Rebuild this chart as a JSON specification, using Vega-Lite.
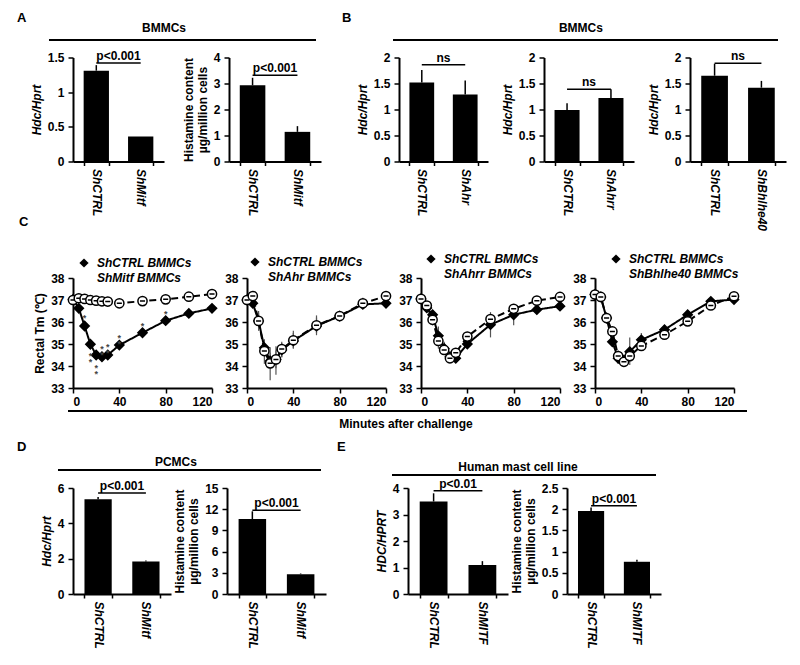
{
"$schema": "https://vega.github.io/schema/vega-lite/v6.json",
"background": "white",
"padding": {"left": 16, "top": 8, "right": 5, "bottom": 5},
"config": {
  "view": {"stroke": null},
  "font": "Liberation Sans",
  "axis": {"domainColor": "black", "domainWidth": 2, "tickColor": "black", "tickWidth": 1.5, "tickSize": 5, "labelFont": "Liberation Sans", "labelFontSize": 12, "labelFontWeight": "bold", "labelColor": "black", "labelPadding": 4, "labelOverlap": false, "titleFont": "Liberation Sans", "titleFontSize": 12, "titleFontWeight": "bold", "titleColor": "black", "titlePadding": 4, "grid": false},
  "axisX": {"labelPadding": 3},
  "legend": {"labelFont": "Liberation Sans", "labelFontSize": 12, "labelFontWeight": "bold", "labelFontStyle": "italic", "labelColor": "black", "symbolSize": 85, "symbolStrokeColor": "black", "symbolStrokeWidth": 1.5, "labelOffset": 7, "padding": 0},
  "text": {"font": "Liberation Sans", "fontSize": 12, "fontWeight": "bold", "color": "black"}
},
"datasets": {
  "A1": [{"g": "ShCTRL", "v": 1.31, "hi": 1.39, "br": 1.42, "p": "p<0.001"}, {"g": "ShMitf", "v": 0.36, "hi": 0.36, "br": 1.42, "p": "p<0.001"}],
  "A2": [{"g": "ShCTRL", "v": 2.93, "hi": 3.22, "br": 3.32, "p": "p<0.001"}, {"g": "ShMitf", "v": 1.14, "hi": 1.36, "br": 3.32, "p": "p<0.001"}],
  "B1": [{"g": "ShCTRL", "v": 1.52, "hi": 1.76, "br": 1.86, "p": "ns"}, {"g": "ShAhr", "v": 1.29, "hi": 1.56, "br": 1.86, "p": "ns"}],
  "B2": [{"g": "ShCTRL", "v": 0.99, "hi": 1.12, "br": 1.39, "p": "ns"}, {"g": "ShAhrr", "v": 1.22, "hi": 1.39, "br": 1.39, "p": "ns"}],
  "B3": [{"g": "ShCTRL", "v": 1.65, "hi": 1.88, "br": 1.89, "p": "ns"}, {"g": "ShBhlhe40", "v": 1.42, "hi": 1.55, "br": 1.89, "p": "ns"}],
  "D1": [{"g": "ShCTRL", "v": 5.36, "hi": 5.49, "br": 5.72, "p": "p<0.001"}, {"g": "ShMitf", "v": 1.84, "hi": 1.9, "br": 5.72, "p": "p<0.001"}],
  "D2": [{"g": "ShCTRL", "v": 10.6, "hi": 11.7, "br": 11.84, "p": "p<0.001"}, {"g": "ShMitf", "v": 2.8, "hi": 2.9, "br": 11.84, "p": "p<0.001"}],
  "E1": [{"g": "ShCTRL", "v": 3.49, "hi": 3.8, "br": 3.9, "p": "p<0.01"}, {"g": "ShMITF", "v": 1.09, "hi": 1.24, "br": 3.9, "p": "p<0.01"}],
  "E2": [{"g": "ShCTRL", "v": 1.96, "hi": 2.04, "br": 2.08, "p": "p<0.001"}, {"g": "ShMITF", "v": 0.76, "hi": 0.81, "br": 2.08, "p": "p<0.001"}],
  "C1": [
    {"g": "ShCTRL BMMCs", "t": 0, "v": 37.03, "lo": 36.95, "hi": 37.1},
    {"g": "ShCTRL BMMCs", "t": 5, "v": 36.62, "lo": 36.52, "hi": 36.72},
    {"g": "ShCTRL BMMCs", "t": 10, "v": 35.82, "lo": 35.67, "hi": 35.97},
    {"g": "ShCTRL BMMCs", "t": 15, "v": 34.99, "lo": 34.84, "hi": 35.14},
    {"g": "ShCTRL BMMCs", "t": 20, "v": 34.5, "lo": 34.4, "hi": 34.6},
    {"g": "ShCTRL BMMCs", "t": 25, "v": 34.42, "lo": 34.32, "hi": 34.52},
    {"g": "ShCTRL BMMCs", "t": 30, "v": 34.5, "lo": 34.4, "hi": 34.6},
    {"g": "ShCTRL BMMCs", "t": 40, "v": 34.95, "lo": 34.8, "hi": 35.1},
    {"g": "ShCTRL BMMCs", "t": 60, "v": 35.51, "lo": 35.36, "hi": 35.66},
    {"g": "ShCTRL BMMCs", "t": 80, "v": 36.06, "lo": 35.9, "hi": 36.22},
    {"g": "ShCTRL BMMCs", "t": 100, "v": 36.39, "lo": 36.29, "hi": 36.49},
    {"g": "ShCTRL BMMCs", "t": 120, "v": 36.62, "lo": 36.42, "hi": 36.8},
    {"g": "ShMitf BMMCs", "t": 0, "v": 37.0, "lo": 36.95, "hi": 37.05},
    {"g": "ShMitf BMMCs", "t": 5, "v": 37.08, "lo": 37.0, "hi": 37.16},
    {"g": "ShMitf BMMCs", "t": 10, "v": 37.05, "lo": 37.0, "hi": 37.1},
    {"g": "ShMitf BMMCs", "t": 15, "v": 37.0, "lo": 36.95, "hi": 37.05},
    {"g": "ShMitf BMMCs", "t": 20, "v": 36.97, "lo": 36.9, "hi": 37.04},
    {"g": "ShMitf BMMCs", "t": 25, "v": 36.94, "lo": 36.85, "hi": 37.03},
    {"g": "ShMitf BMMCs", "t": 30, "v": 36.93, "lo": 36.8, "hi": 37.05},
    {"g": "ShMitf BMMCs", "t": 40, "v": 36.85, "lo": 36.75, "hi": 36.95},
    {"g": "ShMitf BMMCs", "t": 60, "v": 36.95, "lo": 36.88, "hi": 37.02},
    {"g": "ShMitf BMMCs", "t": 80, "v": 37.03, "lo": 36.96, "hi": 37.1},
    {"g": "ShMitf BMMCs", "t": 100, "v": 37.15, "lo": 37.08, "hi": 37.22},
    {"g": "ShMitf BMMCs", "t": 120, "v": 37.27, "lo": 37.2, "hi": 37.34}
  ],
  "C1s": [
    {"t": 10, "v": 36.18, "s": "*"},
    {"t": 15, "v": 34.45, "s": "*\n*"},
    {"t": 20, "v": 33.91, "s": "*\n*"},
    {"t": 25, "v": 34.77, "s": "*\n*"},
    {"t": 30, "v": 34.88, "s": "*\n*"},
    {"t": 40, "v": 35.29, "s": "*\n*"},
    {"t": 60, "v": 35.83, "s": "*"},
    {"t": 80, "v": 36.36, "s": "*"}
  ],
  "C2": [
    {"g": "ShCTRL BMMCs", "t": 0, "v": 37.0, "lo": 36.95, "hi": 37.05},
    {"g": "ShCTRL BMMCs", "t": 5, "v": 36.85, "lo": 36.75, "hi": 36.95},
    {"g": "ShCTRL BMMCs", "t": 10, "v": 36.05, "lo": 35.6, "hi": 36.5},
    {"g": "ShCTRL BMMCs", "t": 15, "v": 34.83, "lo": 34.5, "hi": 35.2},
    {"g": "ShCTRL BMMCs", "t": 20, "v": 34.23, "lo": 33.9, "hi": 34.6},
    {"g": "ShCTRL BMMCs", "t": 25, "v": 34.3, "lo": 33.9, "hi": 34.7},
    {"g": "ShCTRL BMMCs", "t": 30, "v": 34.73, "lo": 34.4, "hi": 35.05},
    {"g": "ShCTRL BMMCs", "t": 40, "v": 35.14, "lo": 34.8, "hi": 35.5},
    {"g": "ShCTRL BMMCs", "t": 60, "v": 35.82, "lo": 35.5, "hi": 36.2},
    {"g": "ShCTRL BMMCs", "t": 80, "v": 36.27, "lo": 36.15, "hi": 36.4},
    {"g": "ShCTRL BMMCs", "t": 100, "v": 36.8, "lo": 36.65, "hi": 36.95},
    {"g": "ShCTRL BMMCs", "t": 120, "v": 36.85, "lo": 36.75, "hi": 36.95},
    {"g": "ShAhr BMMCs", "t": 0, "v": 37.0, "lo": 36.95, "hi": 37.05},
    {"g": "ShAhr BMMCs", "t": 5, "v": 37.18, "lo": 37.1, "hi": 37.26},
    {"g": "ShAhr BMMCs", "t": 10, "v": 36.05, "lo": 35.7, "hi": 36.4},
    {"g": "ShAhr BMMCs", "t": 15, "v": 34.68, "lo": 34.1, "hi": 35.2},
    {"g": "ShAhr BMMCs", "t": 20, "v": 34.12, "lo": 33.35, "hi": 34.85},
    {"g": "ShAhr BMMCs", "t": 25, "v": 34.3, "lo": 33.6, "hi": 34.9},
    {"g": "ShAhr BMMCs", "t": 30, "v": 34.77, "lo": 34.4, "hi": 35.1},
    {"g": "ShAhr BMMCs", "t": 40, "v": 35.17, "lo": 34.8, "hi": 35.6},
    {"g": "ShAhr BMMCs", "t": 60, "v": 35.85, "lo": 35.4, "hi": 36.3},
    {"g": "ShAhr BMMCs", "t": 80, "v": 36.27, "lo": 36.15, "hi": 36.4},
    {"g": "ShAhr BMMCs", "t": 100, "v": 36.85, "lo": 36.6, "hi": 37.1},
    {"g": "ShAhr BMMCs", "t": 120, "v": 37.18, "lo": 37.1, "hi": 37.26}
  ],
  "C3": [
    {"g": "ShCTRL BMMCs", "t": 0, "v": 37.05, "lo": 37.0, "hi": 37.1},
    {"g": "ShCTRL BMMCs", "t": 5, "v": 36.64, "lo": 36.55, "hi": 36.73},
    {"g": "ShCTRL BMMCs", "t": 10, "v": 36.33, "lo": 36.1, "hi": 36.55},
    {"g": "ShCTRL BMMCs", "t": 15, "v": 35.37, "lo": 34.9, "hi": 35.8},
    {"g": "ShCTRL BMMCs", "t": 20, "v": 34.8, "lo": 34.55, "hi": 35.1},
    {"g": "ShCTRL BMMCs", "t": 25, "v": 34.42, "lo": 34.25, "hi": 34.6},
    {"g": "ShCTRL BMMCs", "t": 30, "v": 34.35, "lo": 34.15, "hi": 34.55},
    {"g": "ShCTRL BMMCs", "t": 40, "v": 35.0, "lo": 34.8, "hi": 35.2},
    {"g": "ShCTRL BMMCs", "t": 60, "v": 35.88, "lo": 35.3, "hi": 36.45},
    {"g": "ShCTRL BMMCs", "t": 80, "v": 36.33, "lo": 35.85, "hi": 36.8},
    {"g": "ShCTRL BMMCs", "t": 100, "v": 36.56, "lo": 36.35, "hi": 36.75},
    {"g": "ShCTRL BMMCs", "t": 120, "v": 36.72, "lo": 36.6, "hi": 36.85},
    {"g": "ShAhrr BMMCs", "t": 0, "v": 37.05, "lo": 37.0, "hi": 37.1},
    {"g": "ShAhrr BMMCs", "t": 5, "v": 36.75, "lo": 36.65, "hi": 36.85},
    {"g": "ShAhrr BMMCs", "t": 10, "v": 36.1, "lo": 35.85, "hi": 36.35},
    {"g": "ShAhrr BMMCs", "t": 15, "v": 35.14, "lo": 34.8, "hi": 35.5},
    {"g": "ShAhrr BMMCs", "t": 20, "v": 34.73, "lo": 34.5, "hi": 34.95},
    {"g": "ShAhrr BMMCs", "t": 25, "v": 34.35, "lo": 34.2, "hi": 34.5},
    {"g": "ShAhrr BMMCs", "t": 30, "v": 34.6, "lo": 34.4, "hi": 34.8},
    {"g": "ShAhrr BMMCs", "t": 40, "v": 35.34, "lo": 35.1, "hi": 35.55},
    {"g": "ShAhrr BMMCs", "t": 60, "v": 36.13, "lo": 35.9, "hi": 36.35},
    {"g": "ShAhrr BMMCs", "t": 80, "v": 36.6, "lo": 36.45, "hi": 36.75},
    {"g": "ShAhrr BMMCs", "t": 100, "v": 36.97, "lo": 36.85, "hi": 37.1},
    {"g": "ShAhrr BMMCs", "t": 120, "v": 37.14, "lo": 37.05, "hi": 37.23}
  ],
  "C4": [
    {"g": "ShCTRL BMMCs", "t": 0, "v": 37.25, "lo": 37.2, "hi": 37.3},
    {"g": "ShCTRL BMMCs", "t": 5, "v": 37.14, "lo": 37.05, "hi": 37.23},
    {"g": "ShCTRL BMMCs", "t": 10, "v": 36.18, "lo": 36.0, "hi": 36.35},
    {"g": "ShCTRL BMMCs", "t": 15, "v": 35.1, "lo": 34.95, "hi": 35.25},
    {"g": "ShCTRL BMMCs", "t": 20, "v": 34.35, "lo": 34.1, "hi": 34.6},
    {"g": "ShCTRL BMMCs", "t": 25, "v": 34.27, "lo": 34.05, "hi": 34.5},
    {"g": "ShCTRL BMMCs", "t": 30, "v": 34.65, "lo": 34.05, "hi": 35.3},
    {"g": "ShCTRL BMMCs", "t": 40, "v": 35.19, "lo": 34.95, "hi": 35.5},
    {"g": "ShCTRL BMMCs", "t": 60, "v": 35.65, "lo": 35.45, "hi": 35.85},
    {"g": "ShCTRL BMMCs", "t": 80, "v": 36.33, "lo": 36.15, "hi": 36.5},
    {"g": "ShCTRL BMMCs", "t": 100, "v": 36.94, "lo": 36.8, "hi": 37.05},
    {"g": "ShCTRL BMMCs", "t": 120, "v": 37.02, "lo": 36.95, "hi": 37.1},
    {"g": "ShBhlhe40 BMMCs", "t": 0, "v": 37.25, "lo": 37.2, "hi": 37.3},
    {"g": "ShBhlhe40 BMMCs", "t": 5, "v": 37.14, "lo": 37.05, "hi": 37.23},
    {"g": "ShBhlhe40 BMMCs", "t": 10, "v": 36.18, "lo": 35.95, "hi": 36.4},
    {"g": "ShBhlhe40 BMMCs", "t": 15, "v": 35.57, "lo": 35.35, "hi": 35.8},
    {"g": "ShBhlhe40 BMMCs", "t": 20, "v": 34.45, "lo": 34.25, "hi": 34.7},
    {"g": "ShBhlhe40 BMMCs", "t": 25, "v": 34.19, "lo": 34.05, "hi": 34.35},
    {"g": "ShBhlhe40 BMMCs", "t": 30, "v": 34.45, "lo": 34.2, "hi": 34.7},
    {"g": "ShBhlhe40 BMMCs", "t": 40, "v": 34.91, "lo": 34.75, "hi": 35.1},
    {"g": "ShBhlhe40 BMMCs", "t": 60, "v": 35.42, "lo": 35.2, "hi": 35.6},
    {"g": "ShBhlhe40 BMMCs", "t": 80, "v": 36.03, "lo": 35.85, "hi": 36.2},
    {"g": "ShBhlhe40 BMMCs", "t": 100, "v": 36.75, "lo": 36.6, "hi": 36.9},
    {"g": "ShBhlhe40 BMMCs", "t": 120, "v": 37.17, "lo": 37.1, "hi": 37.24}
  ],
  "hA": [{"label": "BMMCs", "letter": "A"}],
  "hB": [{"label": "BMMCs", "letter": "B"}],
  "hC": [{"letter": "C"}],
  "hD": [{"label": "PCMCs", "letter": "D"}],
  "hE": [{"label": "Human mast cell line", "letter": "E"}],
  "hMin": [{"label": "Minutes after challenge"}]
},
"resolve": {"scale": {"shape": "independent", "fill": "independent", "strokeDash": "independent"}, "legend": {"shape": "independent", "fill": "independent", "strokeDash": "independent"}},
"bounds": "flush",
"spacing": 432,
"vconcat": [
 {"bounds": "flush", "spacing": 207,
  "resolve": {"scale": {"shape": "independent", "fill": "independent", "strokeDash": "independent"}, "legend": {"shape": "independent", "fill": "independent", "strokeDash": "independent"}},
  "vconcat": [
  {"spacing": 20, "hconcat": [
   {"spacing": 8.5, "vconcat": [
     {"width": 243, "height": 32, "data": {"name": "hA"}, "layer": [
       {"mark": {"type": "rule", "color": "black", "strokeWidth": 2}, "encoding": {"x": {"datum": -0.0988, "type": "quantitative", "scale": {"domain": [0, 1], "nice": false, "zero": false}, "axis": null}, "x2": {"datum": 1}, "y": {"datum": 0, "type": "quantitative", "scale": {"domain": [0, 1], "nice": false}, "axis": null}}},
       {"mark": {"type": "text", "baseline": "middle", "align": "center"}, "encoding": {"x": {"datum": 0.3745, "type": "quantitative"}, "y": {"datum": 0.375, "type": "quantitative"}, "text": {"field": "label"}}},
       {"mark": {"type": "text", "baseline": "middle", "align": "left", "fontSize": 13}, "encoding": {"x": {"datum": -0.2305, "type": "quantitative"}, "y": {"datum": 0.6875, "type": "quantitative"}, "text": {"field": "letter"}}}
     ]},
     {"bounds": "flush", "spacing": 65, "hconcat": [
       {"width": 91, "height": 104, "data": {"name": "A1"},
        "encoding": {"x": {"field": "g", "type": "nominal", "sort": null, "scale": {"paddingInner": 0.43, "paddingOuter": 0.24}, "axis": {"title": null, "labelAngle": 90, "labelFontStyle": "italic", "tickBand": "extent", "tickSize": 4, "labelOverlap": false}}, "y": {"field": "v", "type": "quantitative", "scale": {"domain": [0, 1.5], "nice": false}, "axis": {"title": "Hdc/Hprt", "titleFontStyle": "italic", "values": [0, 0.5, 1, 1.5], "labelExpr": "format(datum.value, '~g')", "labelOverlap": false}}},
        "layer": [
         {"mark": {"type": "bar", "color": "black"}},
         {"mark": {"type": "rule", "color": "black", "strokeWidth": 1.5}, "encoding": {"y2": {"field": "hi"}}},
         {"mark": {"type": "line", "color": "black", "strokeWidth": 1.5}, "encoding": {"y": {"field": "br", "type": "quantitative"}}},
         {"transform": [{"filter": "datum.g === 'ShCTRL'"}], "mark": {"type": "text", "baseline": "bottom", "align": "center"}, "encoding": {"x": {"field": "g", "type": "nominal", "sort": null, "bandPosition": 1.377}, "y": {"field": "br", "type": "quantitative"}, "text": {"field": "p"}}}
       ]},
       {"width": 92, "height": 104, "data": {"name": "A2"},
        "encoding": {"x": {"field": "g", "type": "nominal", "sort": null, "scale": {"paddingInner": 0.43, "paddingOuter": 0.24}, "axis": {"title": null, "labelAngle": 90, "labelFontStyle": "italic", "tickBand": "extent", "tickSize": 4, "labelOverlap": false}}, "y": {"field": "v", "type": "quantitative", "scale": {"domain": [0, 4], "nice": false}, "axis": {"title": ["Histamine content", "µg/million cells"], "titleLineHeight": 14, "values": [0, 1, 2, 3, 4], "labelExpr": "format(datum.value, '~g')", "labelOverlap": false}}},
        "layer": [
         {"mark": {"type": "bar", "color": "black"}},
         {"mark": {"type": "rule", "color": "black", "strokeWidth": 1.5}, "encoding": {"y2": {"field": "hi"}}},
         {"mark": {"type": "line", "color": "black", "strokeWidth": 1.5}, "encoding": {"y": {"field": "br", "type": "quantitative"}}},
         {"transform": [{"filter": "datum.g === 'ShCTRL'"}], "mark": {"type": "text", "baseline": "bottom", "align": "center"}, "encoding": {"x": {"field": "g", "type": "nominal", "sort": null, "bandPosition": 1.377}, "y": {"field": "br", "type": "quantitative"}, "text": {"field": "p"}}}
       ]}
     ]}
   ]},
   {"spacing": 8.5, "vconcat": [
     {"width": 379, "height": 32, "data": {"name": "hB"}, "layer": [
       {"mark": {"type": "rule", "color": "black", "strokeWidth": 2}, "encoding": {"x": {"datum": -0.0158, "type": "quantitative", "scale": {"domain": [0, 1], "nice": false, "zero": false}, "axis": null}, "x2": {"datum": 1}, "y": {"datum": 0, "type": "quantitative", "scale": {"domain": [0, 1], "nice": false}, "axis": null}}},
       {"mark": {"type": "text", "baseline": "middle", "align": "center"}, "encoding": {"x": {"datum": 0.48, "type": "quantitative"}, "y": {"datum": 0.375, "type": "quantitative"}, "text": {"field": "label"}}},
       {"mark": {"type": "text", "baseline": "middle", "align": "left", "fontSize": 13}, "encoding": {"x": {"datum": -0.1504, "type": "quantitative"}, "y": {"datum": 0.6875, "type": "quantitative"}, "text": {"field": "letter"}}}
     ]},
     {"bounds": "flush", "spacing": 56, "hconcat": [
       {"width": 89, "height": 104, "data": {"name": "B1"},
        "encoding": {"x": {"field": "g", "type": "nominal", "sort": null, "scale": {"paddingInner": 0.43, "paddingOuter": 0.24}, "axis": {"title": null, "labelAngle": 90, "labelFontStyle": "italic", "tickBand": "extent", "tickSize": 4, "labelOverlap": false}}, "y": {"field": "v", "type": "quantitative", "scale": {"domain": [0, 2], "nice": false}, "axis": {"title": "Hdc/Hprt", "titleFontStyle": "italic", "values": [0, 0.5, 1, 1.5, 2], "labelExpr": "format(datum.value, '~g')", "labelOverlap": false}}},
        "layer": [
         {"mark": {"type": "bar", "color": "black"}},
         {"mark": {"type": "rule", "color": "black", "strokeWidth": 1.5}, "encoding": {"y2": {"field": "hi"}}},
         {"mark": {"type": "line", "color": "black", "strokeWidth": 1.5}, "encoding": {"y": {"field": "br", "type": "quantitative"}}},
         {"transform": [{"filter": "datum.g === 'ShCTRL'"}], "mark": {"type": "text", "baseline": "bottom", "align": "center"}, "encoding": {"x": {"field": "g", "type": "nominal", "sort": null, "bandPosition": 1.377}, "y": {"field": "br", "type": "quantitative"}, "text": {"field": "p"}}}
       ]},
       {"width": 90, "height": 104, "data": {"name": "B2"},
        "encoding": {"x": {"field": "g", "type": "nominal", "sort": null, "scale": {"paddingInner": 0.43, "paddingOuter": 0.24}, "axis": {"title": null, "labelAngle": 90, "labelFontStyle": "italic", "tickBand": "extent", "tickSize": 4, "labelOverlap": false}}, "y": {"field": "v", "type": "quantitative", "scale": {"domain": [0, 2], "nice": false}, "axis": {"title": "Hdc/Hprt", "titleFontStyle": "italic", "values": [0, 0.5, 1, 1.5, 2], "labelExpr": "format(datum.value, '~g')", "labelOverlap": false}}},
        "layer": [
         {"mark": {"type": "bar", "color": "black"}},
         {"mark": {"type": "rule", "color": "black", "strokeWidth": 1.5}, "encoding": {"y2": {"field": "hi"}}},
         {"mark": {"type": "line", "color": "black", "strokeWidth": 1.5}, "encoding": {"y": {"field": "br", "type": "quantitative"}}},
         {"transform": [{"filter": "datum.g === 'ShCTRL'"}], "mark": {"type": "text", "baseline": "bottom", "align": "center"}, "encoding": {"x": {"field": "g", "type": "nominal", "sort": null, "bandPosition": 1.377}, "y": {"field": "br", "type": "quantitative"}, "text": {"field": "p"}}}
       ]},
       {"width": 96, "height": 104, "data": {"name": "B3"},
        "encoding": {"x": {"field": "g", "type": "nominal", "sort": null, "scale": {"paddingInner": 0.43, "paddingOuter": 0.24}, "axis": {"title": null, "labelAngle": 90, "labelFontStyle": "italic", "tickBand": "extent", "tickSize": 4, "labelOverlap": false}}, "y": {"field": "v", "type": "quantitative", "scale": {"domain": [0, 2], "nice": false}, "axis": {"title": "Hdc/Hprt", "titleFontStyle": "italic", "values": [0, 0.5, 1, 1.5, 2], "labelExpr": "format(datum.value, '~g')", "labelOverlap": false}}},
        "layer": [
         {"mark": {"type": "bar", "color": "black"}},
         {"mark": {"type": "rule", "color": "black", "strokeWidth": 1.5}, "encoding": {"y2": {"field": "hi"}}},
         {"mark": {"type": "line", "color": "black", "strokeWidth": 1.5}, "encoding": {"y": {"field": "br", "type": "quantitative"}}},
         {"transform": [{"filter": "datum.g === 'ShCTRL'"}], "mark": {"type": "text", "baseline": "bottom", "align": "center"}, "encoding": {"x": {"field": "g", "type": "nominal", "sort": null, "bandPosition": 1.377}, "y": {"field": "br", "type": "quantitative"}, "text": {"field": "p"}}}
       ]}
     ]}
   ]}
  ]},
  {"spacing": 3,
   "resolve": {"scale": {"shape": "independent", "fill": "independent", "strokeDash": "independent"}, "legend": {"shape": "independent", "fill": "independent", "strokeDash": "independent"}},
   "vconcat": [
    {"width": 100, "height": 35, "data": {"name": "hC"}, "layer": [
      {"mark": {"type": "text", "baseline": "middle", "align": "left", "fontSize": 13}, "encoding": {"x": {"datum": -0.54, "type": "quantitative", "scale": {"domain": [0, 1], "nice": false, "zero": false}, "axis": null}, "y": {"datum": 0.8, "type": "quantitative", "scale": {"domain": [0, 1], "nice": false}, "axis": null}, "text": {"field": "letter"}}}
    ]},
    {"bounds": "flush", "spacing": 35,
     "resolve": {"scale": {"shape": "independent", "fill": "independent", "strokeDash": "independent"}, "legend": {"shape": "independent", "fill": "independent", "strokeDash": "independent"}},
     "hconcat": [
      {"width": 139, "height": 110, "data": {"name": "C1"},
       "encoding": {"x": {"field": "t", "type": "quantitative", "scale": {"domain": [0, 120], "nice": false}, "axis": {"values": [0, 40, 80, 120], "title": null, "labelOverlap": false}}, "y": {"field": "v", "type": "quantitative", "scale": {"domain": [33, 38], "nice": false}, "axis": {"values": [33, 34, 35, 36, 37, 38], "title": "Rectal Tm (℃)", "labelOverlap": false}}},
       "layer": [
         {"mark": {"type": "rule", "color": "#555", "strokeWidth": 1.2}, "encoding": {"y": {"field": "lo", "type": "quantitative"}, "y2": {"field": "hi"}}},
         {"mark": {"type": "line", "color": "black", "strokeWidth": 2}, "encoding": {"strokeDash": {"field": "g", "type": "nominal", "sort": null, "scale": {"range": [[1, 0], [7, 4]]}, "legend": null}}},
         {"mark": {"type": "point", "filled": true, "stroke": "black", "strokeWidth": 1.5, "size": 85, "opacity": 1}, "encoding": {
           "shape": {"field": "g", "type": "nominal", "sort": null, "scale": {"range": ["diamond", "M-1,0A1,1,0,1,1,1,0A1,1,0,1,1,-1,0ZM-0.55,0L0.55,0"]}, "legend": {"title": null, "orient": "none", "legendX": 5, "legendY": -21, "rowPadding": -1}},
           "fill": {"field": "g", "type": "nominal", "sort": null, "scale": {"range": ["black", "white"]}, "legend": {"title": null, "orient": "none", "legendX": 5, "legendY": -21, "rowPadding": -1}}}},
         {"data": {"name": "C1s"}, "mark": {"type": "text", "fontSize": 9, "color": "#444", "baseline": "middle", "align": "center", "lineBreak": "\n", "lineHeight": 6}, "encoding": {"text": {"field": "s"}}}
       ]},
      {"width": 139, "height": 110, "data": {"name": "C2"},
       "encoding": {"x": {"field": "t", "type": "quantitative", "scale": {"domain": [0, 120], "nice": false}, "axis": {"values": [0, 40, 80, 120], "title": null, "labelOverlap": false}}, "y": {"field": "v", "type": "quantitative", "scale": {"domain": [33, 38], "nice": false}, "axis": {"values": [33, 34, 35, 36, 37, 38], "title": null, "labelOverlap": false}}},
       "layer": [
         {"mark": {"type": "rule", "color": "#555", "strokeWidth": 1.2}, "encoding": {"y": {"field": "lo", "type": "quantitative"}, "y2": {"field": "hi"}}},
         {"mark": {"type": "line", "color": "black", "strokeWidth": 2}, "encoding": {"strokeDash": {"field": "g", "type": "nominal", "sort": null, "scale": {"range": [[1, 0], [7, 4]]}, "legend": null}}},
         {"mark": {"type": "point", "filled": true, "stroke": "black", "strokeWidth": 1.5, "size": 85, "opacity": 1}, "encoding": {
           "shape": {"field": "g", "type": "nominal", "sort": null, "scale": {"range": ["diamond", "M-1,0A1,1,0,1,1,1,0A1,1,0,1,1,-1,0ZM-0.55,0L0.55,0"]}, "legend": {"title": null, "orient": "none", "legendX": 2, "legendY": -22, "rowPadding": -1}},
           "fill": {"field": "g", "type": "nominal", "sort": null, "scale": {"range": ["black", "white"]}, "legend": {"title": null, "orient": "none", "legendX": 2, "legendY": -22, "rowPadding": -1}}}}
       ]},
      {"width": 139, "height": 110, "data": {"name": "C3"},
       "encoding": {"x": {"field": "t", "type": "quantitative", "scale": {"domain": [0, 120], "nice": false}, "axis": {"values": [0, 40, 80, 120], "title": null, "labelOverlap": false}}, "y": {"field": "v", "type": "quantitative", "scale": {"domain": [33, 38], "nice": false}, "axis": {"values": [33, 34, 35, 36, 37, 38], "title": null, "labelOverlap": false}}},
       "layer": [
         {"mark": {"type": "rule", "color": "#555", "strokeWidth": 1.2}, "encoding": {"y": {"field": "lo", "type": "quantitative"}, "y2": {"field": "hi"}}},
         {"mark": {"type": "line", "color": "black", "strokeWidth": 2}, "encoding": {"strokeDash": {"field": "g", "type": "nominal", "sort": null, "scale": {"range": [[1, 0], [7, 4]]}, "legend": null}}},
         {"mark": {"type": "point", "filled": true, "stroke": "black", "strokeWidth": 1.5, "size": 85, "opacity": 1}, "encoding": {
           "shape": {"field": "g", "type": "nominal", "sort": null, "scale": {"range": ["diamond", "M-1,0A1,1,0,1,1,1,0A1,1,0,1,1,-1,0ZM-0.55,0L0.55,0"]}, "legend": {"title": null, "orient": "none", "legendX": 4, "legendY": -25, "rowPadding": -1}},
           "fill": {"field": "g", "type": "nominal", "sort": null, "scale": {"range": ["black", "white"]}, "legend": {"title": null, "orient": "none", "legendX": 4, "legendY": -25, "rowPadding": -1}}}}
       ]},
      {"width": 139, "height": 110, "data": {"name": "C4"},
       "encoding": {"x": {"field": "t", "type": "quantitative", "scale": {"domain": [0, 120], "nice": false}, "axis": {"values": [0, 40, 80, 120], "title": null, "labelOverlap": false}}, "y": {"field": "v", "type": "quantitative", "scale": {"domain": [33, 38], "nice": false}, "axis": {"values": [33, 34, 35, 36, 37, 38], "title": null, "labelOverlap": false}}},
       "layer": [
         {"mark": {"type": "rule", "color": "#555", "strokeWidth": 1.2}, "encoding": {"y": {"field": "lo", "type": "quantitative"}, "y2": {"field": "hi"}}},
         {"mark": {"type": "line", "color": "black", "strokeWidth": 2}, "encoding": {"strokeDash": {"field": "g", "type": "nominal", "sort": null, "scale": {"range": [[1, 0], [7, 4]]}, "legend": null}}},
         {"mark": {"type": "point", "filled": true, "stroke": "black", "strokeWidth": 1.5, "size": 85, "opacity": 1}, "encoding": {
           "shape": {"field": "g", "type": "nominal", "sort": null, "scale": {"range": ["diamond", "M-1,0A1,1,0,1,1,1,0A1,1,0,1,1,-1,0ZM-0.55,0L0.55,0"]}, "legend": {"title": null, "orient": "none", "legendX": 15, "legendY": -25, "rowPadding": -1}},
           "fill": {"field": "g", "type": "nominal", "sort": null, "scale": {"range": ["black", "white"]}, "legend": {"title": null, "orient": "none", "legendX": 15, "legendY": -25, "rowPadding": -1}}}}
       ]}
    ]},
    {"width": 674, "height": 20, "data": {"name": "hMin"}, "layer": [
      {"mark": {"type": "rule", "color": "black", "strokeWidth": 2}, "encoding": {"x": {"datum": -0.0074, "type": "quantitative", "scale": {"domain": [0, 1], "nice": false, "zero": false}, "axis": null}, "x2": {"datum": 1}, "y": {"datum": 1, "type": "quantitative", "scale": {"domain": [0, 1], "nice": false}, "axis": null}}},
      {"mark": {"type": "text", "baseline": "middle", "align": "center"}, "encoding": {"x": {"datum": 0.494, "type": "quantitative"}, "y": {"datum": 0.35, "type": "quantitative"}, "text": {"field": "label"}}}
    ]}
  ]}
 ]},
 {"spacing": 10, "hconcat": [
   {"spacing": 8, "vconcat": [
     {"width": 248, "height": 30, "data": {"name": "hD"}, "layer": [
       {"mark": {"type": "rule", "color": "black", "strokeWidth": 2}, "encoding": {"x": {"datum": -0.0605, "type": "quantitative", "scale": {"domain": [0, 1], "nice": false, "zero": false}, "axis": null}, "x2": {"datum": 1}, "y": {"datum": 0, "type": "quantitative", "scale": {"domain": [0, 1], "nice": false}, "axis": null}}},
       {"mark": {"type": "text", "baseline": "middle", "align": "center"}, "encoding": {"x": {"datum": 0.415, "type": "quantitative"}, "y": {"datum": 0.267, "type": "quantitative"}, "text": {"field": "label"}}},
       {"mark": {"type": "text", "baseline": "middle", "align": "left", "fontSize": 13}, "encoding": {"x": {"datum": -0.2258, "type": "quantitative"}, "y": {"datum": 0.767, "type": "quantitative"}, "text": {"field": "letter"}}}
     ]},
     {"bounds": "flush", "spacing": 56, "hconcat": [
       {"width": 98, "height": 106, "data": {"name": "D1"},
        "encoding": {"x": {"field": "g", "type": "nominal", "sort": null, "scale": {"paddingInner": 0.43, "paddingOuter": 0.24}, "axis": {"title": null, "labelAngle": 90, "labelFontStyle": "italic", "tickBand": "extent", "tickSize": 4, "labelOverlap": false}}, "y": {"field": "v", "type": "quantitative", "scale": {"domain": [0, 6], "nice": false}, "axis": {"title": "Hdc/Hprt", "titleFontStyle": "italic", "values": [0, 2, 4, 6], "labelExpr": "format(datum.value, '~g')", "labelOverlap": false}}},
        "layer": [
         {"mark": {"type": "bar", "color": "black"}},
         {"mark": {"type": "rule", "color": "black", "strokeWidth": 1.5}, "encoding": {"y2": {"field": "hi"}}},
         {"mark": {"type": "line", "color": "black", "strokeWidth": 1.5}, "encoding": {"y": {"field": "br", "type": "quantitative"}}},
         {"transform": [{"filter": "datum.g === 'ShCTRL'"}], "mark": {"type": "text", "baseline": "bottom", "align": "center"}, "encoding": {"x": {"field": "g", "type": "nominal", "sort": null, "bandPosition": 1.377}, "y": {"field": "br", "type": "quantitative"}, "text": {"field": "p"}}}
       ]},
       {"width": 99, "height": 106, "data": {"name": "D2"},
        "encoding": {"x": {"field": "g", "type": "nominal", "sort": null, "scale": {"paddingInner": 0.43, "paddingOuter": 0.24}, "axis": {"title": null, "labelAngle": 90, "labelFontStyle": "italic", "tickBand": "extent", "tickSize": 4, "labelOverlap": false}}, "y": {"field": "v", "type": "quantitative", "scale": {"domain": [0, 15], "nice": false}, "axis": {"title": ["Histamine content", "µg/million cells"], "titleLineHeight": 14, "values": [0, 3, 6, 9, 12, 15], "labelExpr": "format(datum.value, '~g')", "labelOverlap": false}}},
        "layer": [
         {"mark": {"type": "bar", "color": "black"}},
         {"mark": {"type": "rule", "color": "black", "strokeWidth": 1.5}, "encoding": {"y2": {"field": "hi"}}},
         {"mark": {"type": "line", "color": "black", "strokeWidth": 1.5}, "encoding": {"y": {"field": "br", "type": "quantitative"}}},
         {"transform": [{"filter": "datum.g === 'ShCTRL'"}], "mark": {"type": "text", "baseline": "bottom", "align": "center"}, "encoding": {"x": {"field": "g", "type": "nominal", "sort": null, "bandPosition": 1.377}, "y": {"field": "br", "type": "quantitative"}, "text": {"field": "p"}}}
       ]}
     ]}
   ]},
   {"spacing": 1, "vconcat": [
     {"width": 248, "height": 35, "data": {"name": "hE"}, "layer": [
       {"mark": {"type": "rule", "color": "black", "strokeWidth": 2}, "encoding": {"x": {"datum": -0.0645, "type": "quantitative", "scale": {"domain": [0, 1], "nice": false, "zero": false}, "axis": null}, "x2": {"datum": 1}, "y": {"datum": 0, "type": "quantitative", "scale": {"domain": [0, 1], "nice": false}, "axis": null}}},
       {"mark": {"type": "text", "baseline": "middle", "align": "center"}, "encoding": {"x": {"datum": 0.4435, "type": "quantitative"}, "y": {"datum": 0.229, "type": "quantitative"}, "text": {"field": "label"}}},
       {"mark": {"type": "text", "baseline": "middle", "align": "left", "fontSize": 13}, "encoding": {"x": {"datum": -0.2863, "type": "quantitative"}, "y": {"datum": 0.8, "type": "quantitative"}, "text": {"field": "letter"}}}
     ]},
     {"bounds": "flush", "spacing": 59, "hconcat": [
       {"width": 100, "height": 106, "data": {"name": "E1"},
        "encoding": {"x": {"field": "g", "type": "nominal", "sort": null, "scale": {"paddingInner": 0.43, "paddingOuter": 0.24}, "axis": {"title": null, "labelAngle": 90, "labelFontStyle": "italic", "tickBand": "extent", "tickSize": 4, "labelOverlap": false}}, "y": {"field": "v", "type": "quantitative", "scale": {"domain": [0, 4], "nice": false}, "axis": {"title": "HDC/HPRT", "titleFontStyle": "italic", "values": [0, 1, 2, 3, 4], "labelExpr": "format(datum.value, '~g')", "labelOverlap": false}}},
        "layer": [
         {"mark": {"type": "bar", "color": "black"}},
         {"mark": {"type": "rule", "color": "black", "strokeWidth": 1.5}, "encoding": {"y2": {"field": "hi"}}},
         {"mark": {"type": "line", "color": "black", "strokeWidth": 1.5}, "encoding": {"y": {"field": "br", "type": "quantitative"}}},
         {"transform": [{"filter": "datum.g === 'ShCTRL'"}], "mark": {"type": "text", "baseline": "bottom", "align": "center"}, "encoding": {"x": {"field": "g", "type": "nominal", "sort": null, "bandPosition": 1.377}, "y": {"field": "br", "type": "quantitative"}, "text": {"field": "p"}}}
       ]},
       {"width": 94, "height": 106, "data": {"name": "E2"},
        "encoding": {"x": {"field": "g", "type": "nominal", "sort": null, "scale": {"paddingInner": 0.43, "paddingOuter": 0.24}, "axis": {"title": null, "labelAngle": 90, "labelFontStyle": "italic", "tickBand": "extent", "tickSize": 4, "labelOverlap": false}}, "y": {"field": "v", "type": "quantitative", "scale": {"domain": [0, 2.5], "nice": false}, "axis": {"title": ["Histamine content", "µg/million cells"], "titleLineHeight": 14, "values": [0, 0.5, 1, 1.5, 2, 2.5], "labelExpr": "format(datum.value, '~g')", "labelOverlap": false}}},
        "layer": [
         {"mark": {"type": "bar", "color": "black"}},
         {"mark": {"type": "rule", "color": "black", "strokeWidth": 1.5}, "encoding": {"y2": {"field": "hi"}}},
         {"mark": {"type": "line", "color": "black", "strokeWidth": 1.5}, "encoding": {"y": {"field": "br", "type": "quantitative"}}},
         {"transform": [{"filter": "datum.g === 'ShCTRL'"}], "mark": {"type": "text", "baseline": "bottom", "align": "center"}, "encoding": {"x": {"field": "g", "type": "nominal", "sort": null, "bandPosition": 1.377}, "y": {"field": "br", "type": "quantitative"}, "text": {"field": "p"}}}
       ]}
     ]}
   ]}
 ]}
]
}
